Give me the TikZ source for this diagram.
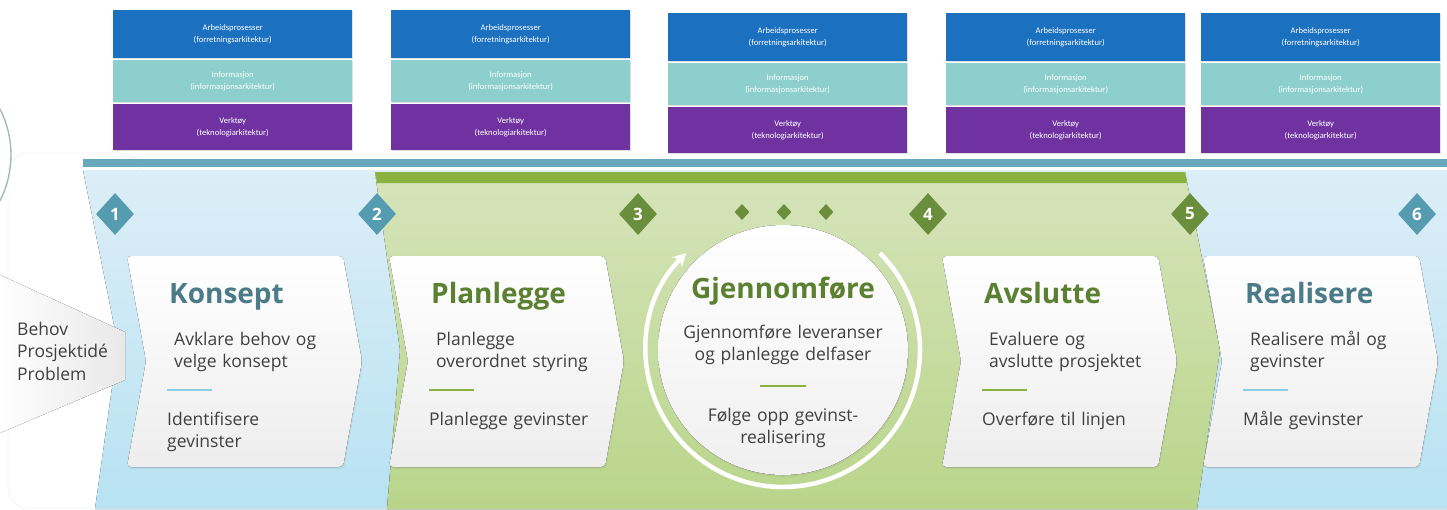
\documentclass[tikz,border=0pt]{standalone}
\usepackage{fontspec}
\setmainfont{Open Sans}
\newfontfamily\calibri{Carlito}
\usepackage{tikz}
\usetikzlibrary{shapes.geometric,shadows,arrows.meta}
\definecolor{arbeid}{RGB}{28,112,192}
\definecolor{info}{RGB}{140,207,205}
\definecolor{verktoy}{RGB}{112,50,160}
\definecolor{bjelke}{RGB}{103,168,189}
\definecolor{lysblaa}{RGB}{220,238,247}
\definecolor{blaabunn}{RGB}{184,226,242}
\definecolor{gronnbjelke}{RGB}{139,178,64}
\definecolor{lysgronn}{RGB}{214,228,187}
\definecolor{gronnbunn}{RGB}{185,213,138}
\definecolor{blaarute}{RGB}{85,156,176}
\definecolor{gronnrute}{RGB}{106,142,60}
\definecolor{blaatittel}{RGB}{75,123,136}
\definecolor{gronntittel}{RGB}{91,128,49}
\definecolor{tekst}{RGB}{64,64,64}
\definecolor{blaastrek}{RGB}{140,203,224}
\definecolor{randgraa}{RGB}{232,238,240}
\definecolor{buegraa}{RGB}{160,182,182}
\newcommand{\fasekort}[7]{%
  \fill[kort] (#2,256) -- ++(216,0) -- ++(19,105) -- ++(-19,106) -- ++(-216,0) -- ++(19,-106) -- cycle;
  \node[tittel, text=#3] (#1) at (#2+42,303) {#4};
  \node[brodtekst] (#1-a) at (#2+47,345) {#5};
  \draw[skille, #6] (#2+40,390) -- (#2+85,390);
  \node[brodtekst] (#1-b) at (#2+40,425) {#7};
}

\begin{document}
\begin{tikzpicture}[x=1pt, y=-1pt,
    arkboks/.style={anchor=north west, minimum width=239pt, inner sep=0pt, align=center, text=white,
      font=\calibri\fontsize{8.6}{12.5}\selectfont, drop shadow={opacity=0.25, shadow xshift=1pt, shadow yshift=-1pt}},
    nummer/.style={diamond, minimum width=38pt, minimum height=42pt, inner sep=0pt, text=white,
      font=\fontsize{17}{20}\selectfont\bfseries},
    prikk/.style={diamond, fill=gronnrute, minimum width=15pt, minimum height=16pt, inner sep=0pt},
    kort/.style={rounded corners=4pt, top color=white, bottom color=black!7,
      drop shadow={opacity=0.12, shadow xshift=1pt, shadow yshift=-2pt}},
    tittel/.style={anchor=base west, inner sep=0pt, font=\fontsize{28}{34}\selectfont\bfseries},
    brodtekst/.style={anchor=base west, inner sep=0pt, text width=215pt, align=left, text=tekst,
      font=\fontsize{17.5}{22.8}\selectfont},
    skille/.style={line width=2.2pt},
  ]
\useasboundingbox (0,0) rectangle (1447,509);
\fill[white] (0,0) rectangle (1447,509);

% arkitekturlag over fasene
\foreach \k/\x/\y in {1/113/10, 2/391/10, 3/668/13, 4/946/13, 5/1201/13}{
  \node[arkboks, fill=arbeid, minimum height=48pt] (arb\k) at (\x,\y) {Arbeidsprosesser\\(forretningsarkitektur)};
  \node[arkboks, fill=info, minimum height=42pt] (inf\k) at (\x,\y+50) {Informasjon\\(informasjonsarkitektur)};
  \node[arkboks, fill=verktoy, minimum height=46pt] (vrk\k) at (\x,\y+94) {Verktøy\\(teknologiarkitektur)};
}

% bakgrunn
\draw[fill=white, draw=randgraa, rounded corners=20pt] (8,153) rectangle (140,508);
\draw[buegraa, line width=1.3pt] (0,109) arc[start angle=-27, end angle=27, radius=101];
\fill[bjelke] (83,159) rectangle (1447,167);
\fill[top color=lysblaa, bottom color=blaabunn] (83,170) -- (1447,170) -- (1447,509) -- (95,509) -- (118,345) -- cycle;
\fill[top color=lysgronn, bottom color=gronnbunn] (375,172) -- (1185,172) -- (1220,350) -- (1197,509) -- (387,509) -- (400,350) -- cycle;
\fill[gronnbjelke] (375,172) -- (1185,172) -- (1187,183) -- (377,183) -- cycle;
\fill[left color=white, right color=black!9] (0,275) -- (125,332) -- (125,380) -- (0,433) -- cycle;
\node[brodtekst, text width=110pt] (behov) at (17,335) {Behov\\Prosjektidé\\Problem};

% milepæler
\node[nummer, fill=blaarute] (m1) at (115,214) {1};
\node[nummer, fill=blaarute] (m2) at (377,214) {2};
\node[nummer, fill=gronnrute] (m3) at (638,214) {3};
\node[nummer, fill=gronnrute] (m4) at (928,214) {4};
\node[nummer, fill=gronnrute] (m5) at (1190,214) {5};
\node[nummer, fill=blaarute] (m6) at (1417,214) {6};
\node[prikk] (p1) at (742,212) {};
\node[prikk] (p2) at (784,212) {};
\node[prikk] (p3) at (826,212) {};

% fasene
\fasekort{konsept}{127}{blaatittel}{Konsept}{Avklare behov og\\velge konsept}{blaastrek}{Identifisere\\gevinster}
\fasekort{planlegge}{389}{gronntittel}{Planlegge}{Planlegge\\overordnet styring}{gronnbjelke}{Planlegge gevinster}
\fasekort{avslutte}{942}{gronntittel}{Avslutte}{Evaluere og\\avslutte prosjektet}{gronnbjelke}{Overføre til linjen}
\fasekort{realisere}{1203}{blaatittel}{Realisere}{Realisere mål og\\gevinster}{blaastrek}{Måle gevinster}

% gjennomføring
\fill[top color=white, bottom color=black!6, drop shadow={opacity=0.12, shadow xshift=1pt, shadow yshift=-2pt}]
  (783,350) circle[radius=125];
\draw[white, line width=4.5pt, -{Stealth[length=13pt, width=14pt]}]
  (783,350) ++(-45:137) arc[start angle=-45, end angle=225, radius=137];
\node[tittel, anchor=base, text=gronntittel] (gjennomfore) at (783,298) {Gjennomføre};
\node[brodtekst, anchor=base, text width=250pt, align=center] (gjennomfore-a) at (783,338) {Gjennomføre leveranser\\og planlegge delfaser};
\draw[skille, gronnbjelke] (760,386) -- (806,386);
\node[brodtekst, anchor=base, text width=250pt, align=center] (gjennomfore-b) at (783,421) {Følge opp gevinst-\\realisering};
\end{tikzpicture}
\end{document}
